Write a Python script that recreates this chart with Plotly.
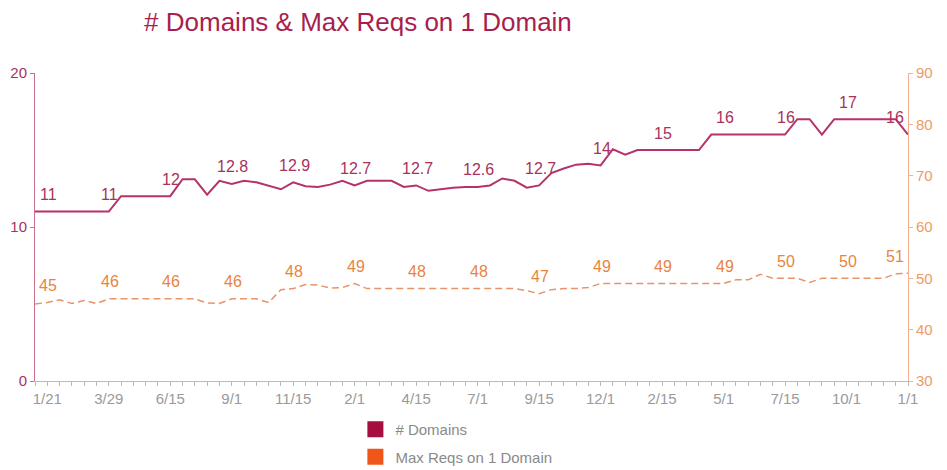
import plotly.graph_objects as go

# ---- data ----
dates = ["12/28", "1/21", "1/31", "2/11", "2/26", "3/15", "3/29", "4/15", "4/30", "5/16",
         "6/1", "6/15", "7/1", "7/15", "8/1", "8/15", "9/1", "9/15", "10/1", "10/15",
         "11/1", "11/15", "12/1", "12/15", "1/1", "1/15", "2/1", "2/15", "3/1", "3/15",
         "4/1", "4/15", "5/1", "5/15", "6/1", "6/15", "7/1", "7/15", "8/1", "8/15",
         "9/1", "9/15", "10/1", "10/15", "11/1", "11/15", "12/1", "12/15", "1/1", "1/15",
         "2/1", "2/15", "3/1", "3/15", "4/1", "4/15", "5/1", "5/15", "6/1", "6/15",
         "7/1", "7/15", "8/1", "8/15", "9/1", "9/15", "10/1", "10/15", "11/1", "11/15",
         "12/15", "1/1"]

domains = [11, 11, 11, 11, 11, 11, 11, 12, 12, 12,
           12, 12, 13.1, 13.1, 12.1, 13.0, 12.8, 13.0, 12.9, 12.7,
           12.45, 12.9, 12.65, 12.6, 12.75, 13.0, 12.7, 13.0, 13.0, 13.0,
           12.6, 12.7, 12.35, 12.45, 12.55, 12.6, 12.6, 12.7, 13.15, 13.0,
           12.55, 12.7, 13.5, 13.8, 14.05, 14.1, 14.0, 15.05, 14.7, 15,
           15, 15, 15, 15, 15, 16, 16, 16, 16, 16,
           16, 16, 17, 17, 16, 17, 17, 17, 17, 17,
           17, 16]

max_reqs = [45.0, 45.3, 45.8, 45.1, 45.7, 45.1, 46, 46, 46, 46,
            46, 46, 46, 46, 45.2, 45.1, 46, 46, 46, 45.3,
            47.8, 48, 48.8, 48.7, 48.1, 48.2, 49, 48, 48, 48,
            48, 48, 48, 48, 48, 48, 48, 48, 48, 48,
            47.6, 47, 47.8, 48, 48, 48.2, 49, 49, 49, 49,
            49, 49, 49, 49, 49, 49, 49, 49.7, 49.7, 50.8,
            50, 50, 50, 49.2, 50, 50, 50, 50, 50, 50,
            50.9, 51]

label_every = 5
label_start = 1

left_ticks = [0, 10, 20]
right_ticks = [30, 40, 50, 60, 70, 80, 90]

# ---- styles ----
FONT = "Liberation Sans, Arial, Helvetica, sans-serif"
C_DOM = "#B5336A"
C_DOM_LEG = "#A50E3E"
C_DOM_TXT = "#A8325C"
C_REQ = "#E8946A"
C_REQ_LEG = "#F0561A"
C_REQ_TXT = "#E8843F"

x = list(range(len(dates)))
last = len(dates) - 1
ticktext = [d if (i - label_start) % label_every == 0 and i >= label_start else "" for i, d in enumerate(dates)]

fig = go.Figure()
fig.add_trace(go.Scatter(x=x, y=domains, mode="lines", name="# Domains",
                         line=dict(color=C_DOM, width=2), showlegend=False, yaxis="y"))
fig.add_trace(go.Scatter(x=x, y=max_reqs, mode="lines", name="Max Reqs on 1 Domain",
                         line=dict(color=C_REQ, width=1.5, dash="7px,4px"), showlegend=False, yaxis="y2"))

# legend entries (square swatches)
fig.add_trace(go.Scatter(x=[None], y=[None], mode="markers", name="# Domains", legendgroup="a",
                         marker=dict(symbol="square", size=16, color=C_DOM_LEG)))
fig.add_trace(go.Scatter(x=[None], y=[None], mode="markers", name="Max Reqs on 1 Domain", legendgroup="b",
                         marker=dict(symbol="square", size=16, color=C_REQ_LEG)))

annotations = []
for i in x:
    if i >= label_start and (i - label_start) % label_every == 0:
        xs = -13 if i == last else 1
        v = round(domains[i], 1)
        t = str(int(v)) if v == int(v) else f"{v:.1f}"
        annotations.append(dict(x=i, y=domains[i], xref="x", yref="y", text=t, showarrow=False,
                                yshift=17, xshift=xs, font=dict(family=FONT, size=16, color=C_DOM_TXT)))
        annotations.append(dict(x=i, y=max_reqs[i], xref="x", yref="y2", text=str(int(round(max_reqs[i]))),
                                showarrow=False, yshift=17, xshift=xs,
                                font=dict(family=FONT, size=16, color=C_REQ_TXT)))

fig.update_layout(
    width=947, height=470,
    margin=dict(l=35, r=39, t=73, b=89, autoexpand=False),
    paper_bgcolor="white", plot_bgcolor="white",
    font=dict(family=FONT),
    title=dict(text="# Domains & Max Reqs on 1 Domain", x=0.378, xref="container", xanchor="center",
               y=1 - 22 / 470, yref="container", yanchor="middle",
               font=dict(family=FONT, size=26, color="#A81E4F")),
    xaxis=dict(range=[0, last], tickmode="array", tickvals=x, ticktext=ticktext,
               ticks="outside", ticklen=4, tickcolor="#BBBBBB", showline=True, linecolor="#BBBBBB",
               showgrid=False, zeroline=False, tickfont=dict(size=15, color="#9A9A9A", family=FONT),
               tickangle=0),
    yaxis=dict(range=[0, 20], tickmode="array", tickvals=left_ticks, ticks="outside", ticklen=4,
               tickcolor="#C87090", showline=True, linecolor="#C87090", linewidth=1,
               showgrid=False, zeroline=False, tickfont=dict(size=15, color="#A8325C", family=FONT)),
    yaxis2=dict(range=[30, 90], tickmode="array", tickvals=right_ticks, overlaying="y", side="right",
                ticks="outside", ticklen=4, tickcolor="#F4B090", showline=True, linecolor="#F4B090",
                showgrid=False, zeroline=False, tickfont=dict(size=15, color="#EE9A66", family=FONT)),
    legend=dict(x=0.367, y=-0.104, xanchor="left", yanchor="top", orientation="v",
                traceorder="grouped", tracegroupgap=5, bgcolor="rgba(0,0,0,0)",
                font=dict(family=FONT, size=15, color="#8A8A8A")),
    annotations=annotations,
)

fig.write_html("out.html")
